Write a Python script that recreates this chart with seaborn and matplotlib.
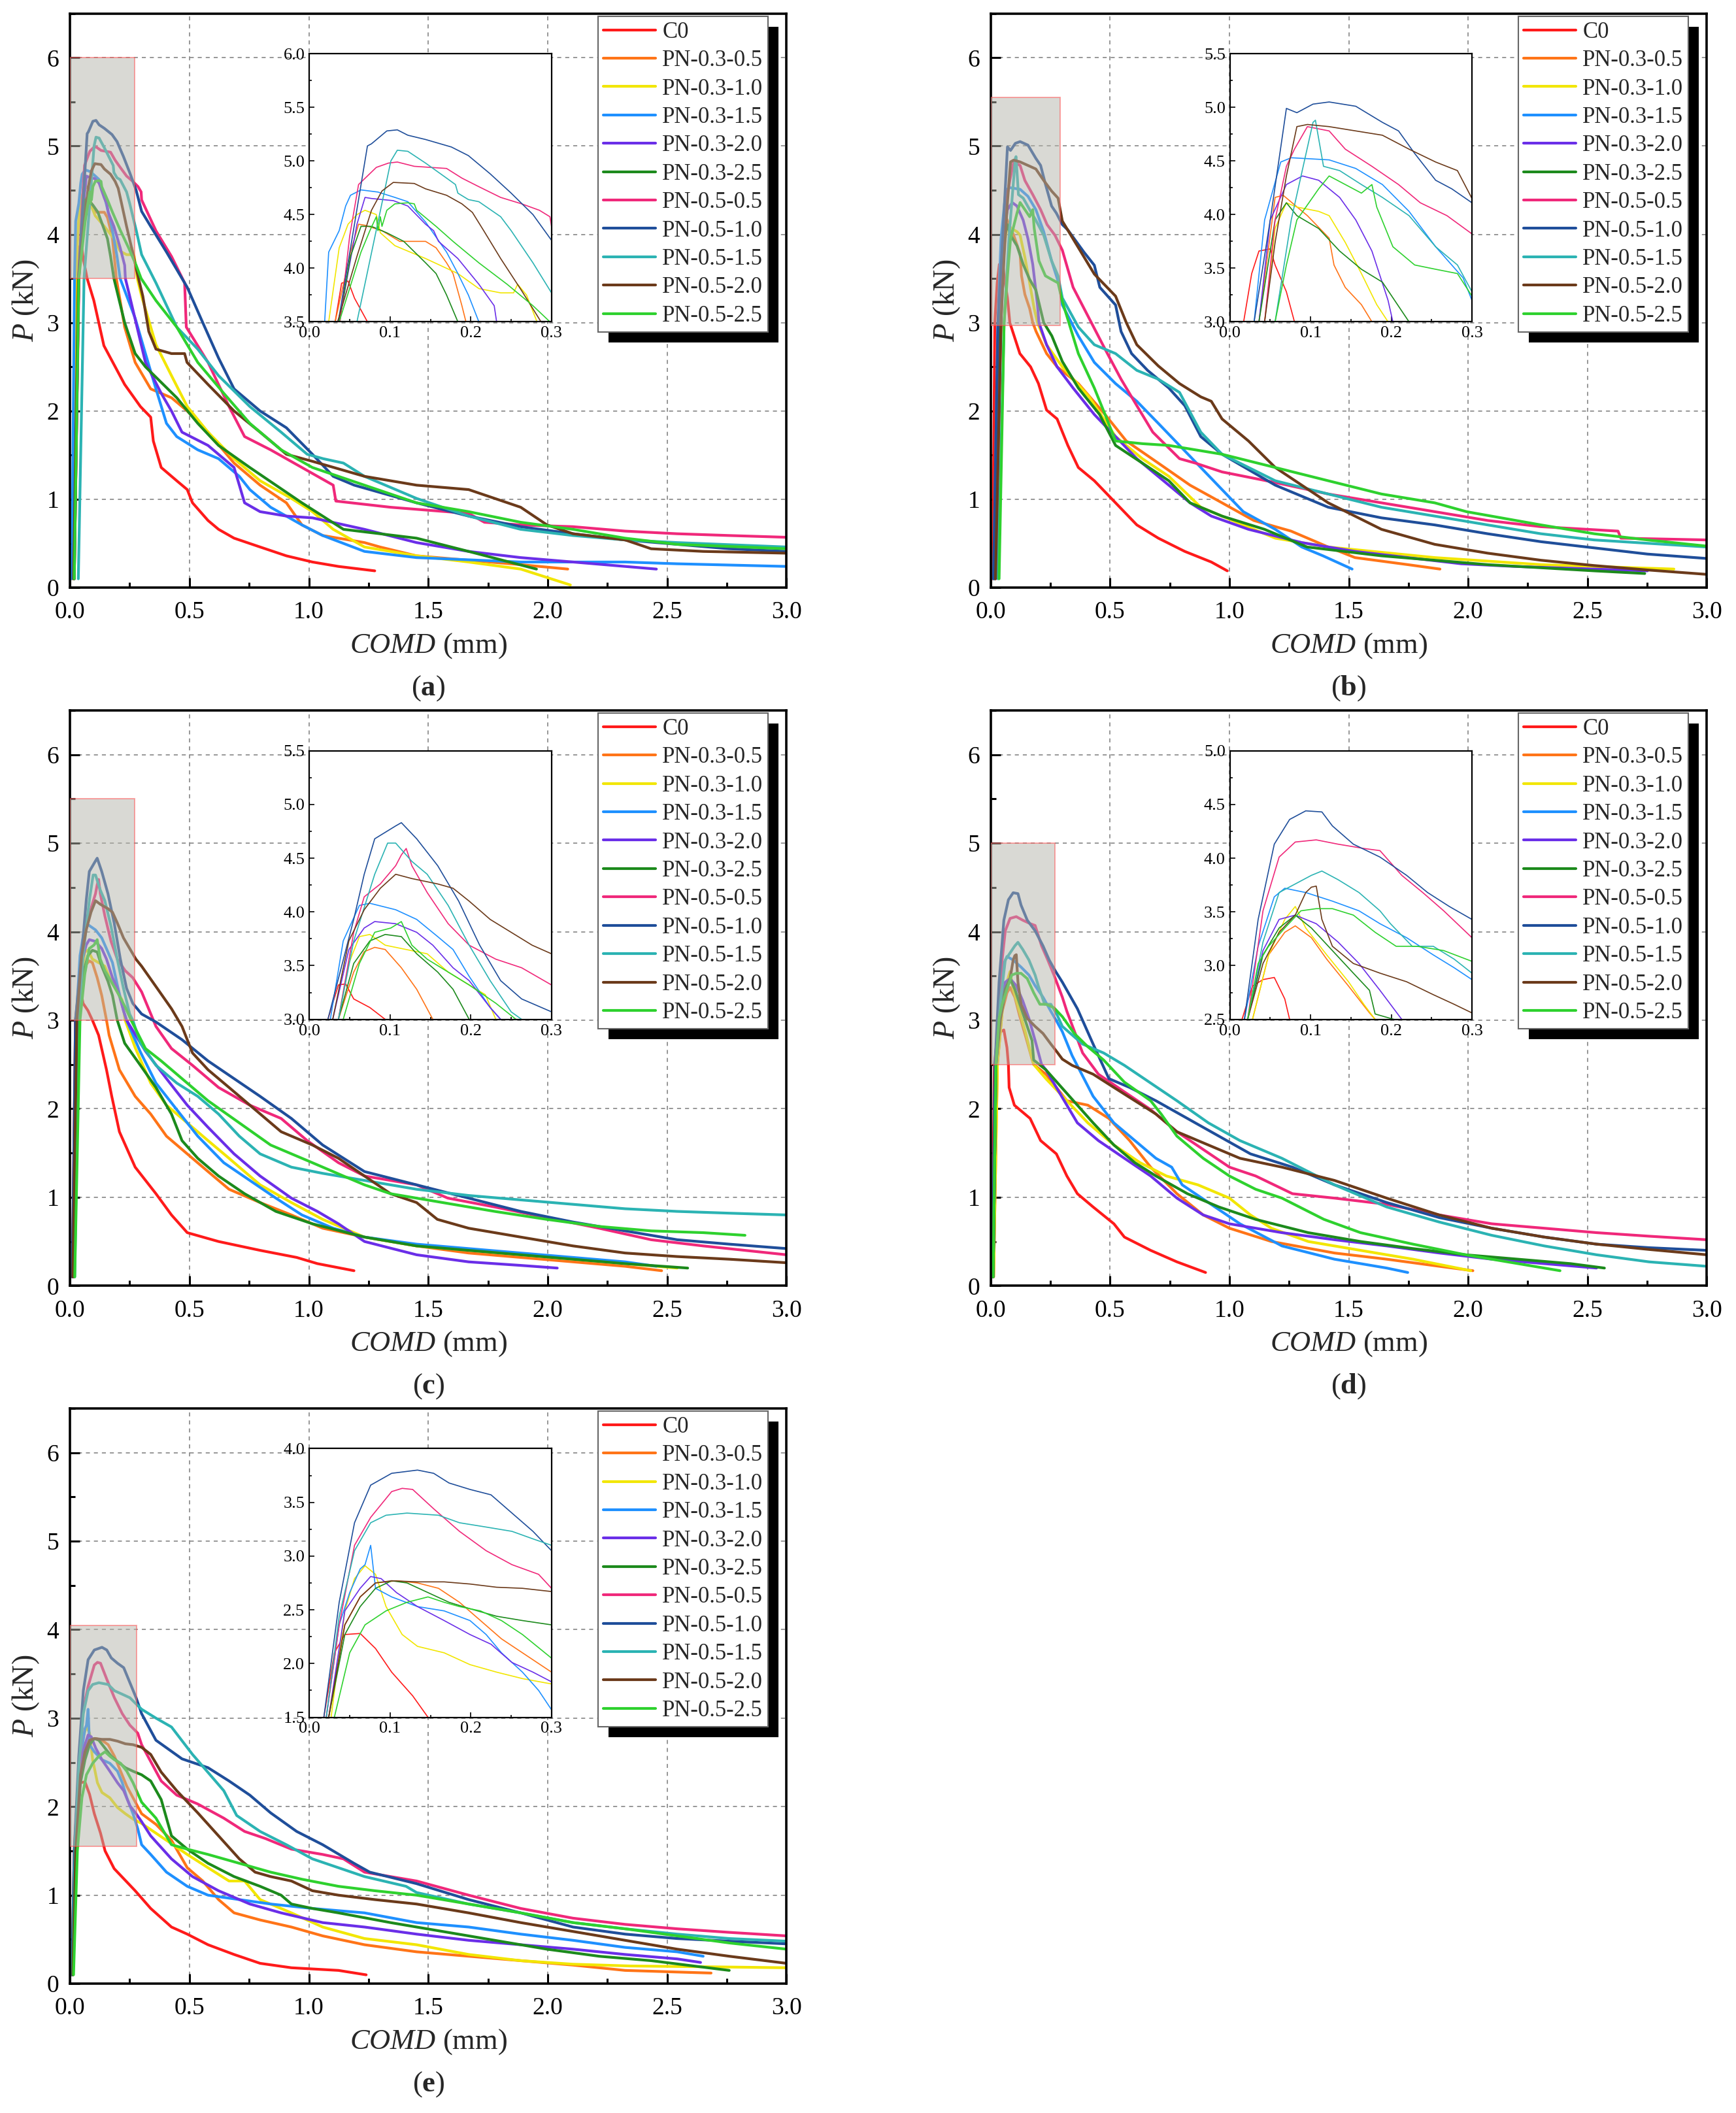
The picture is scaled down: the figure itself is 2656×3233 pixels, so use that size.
import pandas as pd
import seaborn as sns
import matplotlib
matplotlib.use('Agg')
import matplotlib.pyplot as plt
from matplotlib.patches import Rectangle
from matplotlib.ticker import MultipleLocator

# ---- series and colours ----
series = ['C0', 'PN-0.3-0.5', 'PN-0.3-1.0', 'PN-0.3-1.5', 'PN-0.3-2.0', 'PN-0.3-2.5',
          'PN-0.5-0.5', 'PN-0.5-1.0', 'PN-0.5-1.5', 'PN-0.5-2.0', 'PN-0.5-2.5']
colors = ['#ff1a1a', '#ff7417', '#f2e600', '#1e90ff', '#6a2ee8', '#1c8a1c',
          '#f0287a', '#1f4e9a', '#2bb3b3', '#6b3a1a', '#2ed12e']
palette = dict(zip(series, colors))

# ---- (a) load vs COMD, (COMD mm, P kN) points, one list per series ----
curves_a = [
    [(0.012,0.1),(0.032,3.5),(0.040,3.86),(0.048,3.88),(0.056,3.72),(0.072,3.5),(0.100,3.25),(0.142,2.74),(0.229,2.30),(0.295,2.05),(0.338,1.93),(0.349,1.66),(0.382,1.36),(0.447,1.21),(0.491,1.11),(0.513,0.96),(0.578,0.76),(0.622,0.66),(0.687,0.56),(0.796,0.46),(0.906,0.36),(1.015,0.29),(1.124,0.24),(1.276,0.19)],
    [(0.015,0.1),(0.032,3.5),(0.051,4.15),(0.061,4.41),(0.069,4.40),(0.090,4.35),(0.112,4.25),(0.144,4.25),(0.157,4.19),(0.170,4.05),(0.178,3.95),(0.189,3.65),(0.194,3.5),(0.229,2.95),(0.273,2.55),(0.338,2.25),(0.425,2.15),(0.491,2.0),(0.578,1.76),(0.687,1.41),(0.796,1.16),(0.906,0.96),(0.971,0.71),(1.058,0.59),(1.233,0.51),(1.298,0.46),(1.451,0.36),(1.669,0.31),(1.887,0.26),(2.084,0.21)],
    [(0.010,0.1),(0.024,3.5),(0.037,4.19),(0.048,4.41),(0.059,4.50),(0.069,4.54),(0.083,4.50),(0.088,4.33),(0.106,4.21),(0.144,4.09),(0.184,3.95),(0.210,3.81),(0.237,3.77),(0.253,3.77),(0.258,3.85),(0.269,3.75),(0.282,3.5),(0.300,3.30),(0.360,2.75),(0.425,2.40),(0.491,2.05),(0.578,1.76),(0.687,1.46),(0.796,1.21),(0.927,1.01),(1.015,0.86),(1.102,0.66),(1.233,0.46),(1.451,0.36),(1.669,0.29),(1.887,0.21),(2.095,0.03)],
    [(0.008,0.1),(0.019,3.5),(0.024,4.15),(0.037,4.35),(0.045,4.58),(0.051,4.68),(0.064,4.73),(0.085,4.71),(0.106,4.66),(0.122,4.62),(0.144,4.43),(0.170,4.15),(0.184,3.95),(0.197,3.75),(0.210,3.5),(0.273,3.05),(0.316,2.65),(0.360,2.25),(0.404,1.86),(0.447,1.71),(0.535,1.56),(0.622,1.46),(0.709,1.26),(0.753,1.11),(0.840,0.91),(0.971,0.71),(1.058,0.59),(1.233,0.41),(1.451,0.34),(1.887,0.29),(2.324,0.29),(2.542,0.27),(3.0,0.24)],
    [(0.018,0.1),(0.037,3.5),(0.059,4.41),(0.069,4.66),(0.077,4.65),(0.104,4.63),(0.122,4.58),(0.144,4.41),(0.154,4.35),(0.160,4.25),(0.184,4.09),(0.210,3.85),(0.229,3.65),(0.232,3.5),(0.250,3.30),(0.316,2.55),(0.382,2.20),(0.425,2.0),(0.469,1.76),(0.578,1.61),(0.687,1.36),(0.731,0.96),(0.796,0.86),(0.906,0.81),(1.015,0.79),(1.233,0.66),(1.451,0.51),(1.669,0.41),(1.887,0.34),(2.106,0.29),(2.455,0.21)],
    [(0.018,0.1),(0.037,3.5),(0.051,4.11),(0.064,4.39),(0.077,4.39),(0.096,4.33),(0.117,4.25),(0.144,4.05),(0.157,3.95),(0.170,3.75),(0.184,3.5),(0.229,3.0),(0.273,2.65),(0.316,2.50),(0.447,2.15),(0.535,1.86),(0.622,1.61),(0.753,1.36),(0.862,1.16),(0.971,0.96),(1.058,0.81),(1.145,0.66),(1.451,0.56),(1.669,0.41),(1.953,0.21)],
    [(0.018,0.1),(0.038,3.5),(0.050,4.30),(0.061,4.78),(0.083,4.94),(0.098,4.98),(0.109,4.99),(0.130,4.95),(0.170,4.93),(0.189,4.84),(0.210,4.76),(0.237,4.66),(0.263,4.60),(0.285,4.54),(0.298,4.48),(0.300,4.39),(0.360,4.04),(0.425,3.75),(0.480,3.45),(0.487,2.95),(0.578,2.55),(0.666,2.05),(0.731,1.71),(0.840,1.56),(0.971,1.36),(1.102,1.16),(1.113,0.98),(1.342,0.91),(1.669,0.84),(1.735,0.74),(1.887,0.71),(2.106,0.69),(2.324,0.64),(2.542,0.61),(2.760,0.59),(3.0,0.57)],
    [(0.017,0.1),(0.037,3.55),(0.072,5.14),(0.077,5.16),(0.096,5.28),(0.109,5.29),(0.122,5.24),(0.144,5.20),(0.176,5.13),(0.197,5.05),(0.224,4.88),(0.250,4.70),(0.277,4.50),(0.300,4.26),(0.338,4.09),(0.404,3.80),(0.491,3.40),(0.556,3.00),(0.622,2.60),(0.687,2.25),(0.796,2.00),(0.906,1.81),(1.015,1.51),(1.102,1.26),(1.190,1.16),(1.451,0.96),(1.669,0.81),(1.887,0.69),(2.106,0.61),(2.324,0.54),(2.542,0.49),(2.760,0.44),(3.0,0.41)],
    [(0.035,0.1),(0.059,3.5),(0.101,5.0),(0.109,5.10),(0.122,5.09),(0.144,4.98),(0.170,4.84),(0.181,4.78),(0.184,4.70),(0.197,4.64),(0.210,4.62),(0.237,4.48),(0.250,4.35),(0.277,4.05),(0.300,3.77),(0.360,3.45),(0.447,2.95),(0.535,2.70),(0.622,2.40),(0.753,2.05),(0.884,1.76),(0.993,1.51),(1.060,1.46),(1.145,1.41),(1.233,1.26),(1.451,1.01),(1.669,0.81),(1.887,0.66),(2.106,0.59),(2.324,0.54),(2.542,0.51),(3.0,0.46)],
    [(0.015,0.1),(0.035,3.5),(0.059,4.11),(0.077,4.54),(0.090,4.72),(0.104,4.80),(0.130,4.79),(0.144,4.74),(0.170,4.68),(0.189,4.60),(0.202,4.52),(0.216,4.35),(0.237,4.09),(0.263,3.79),(0.287,3.5),(0.305,3.30),(0.330,2.90),(0.360,2.70),(0.425,2.65),(0.480,2.65),(0.490,2.55),(0.578,2.30),(0.687,2.0),(0.796,1.76),(0.906,1.51),(1.015,1.43),(1.233,1.26),(1.451,1.16),(1.669,1.11),(1.778,1.01),(1.887,0.91),(1.997,0.71),(2.106,0.61),(2.324,0.54),(2.433,0.44),(2.651,0.41),(3.0,0.39)],
    [(0.018,0.1),(0.037,3.5),(0.064,4.15),(0.075,4.35),(0.083,4.48),(0.085,4.35),(0.088,4.48),(0.090,4.39),(0.096,4.54),(0.106,4.60),(0.122,4.61),(0.130,4.60),(0.133,4.54),(0.157,4.39),(0.178,4.25),(0.210,4.05),(0.245,3.85),(0.277,3.65),(0.298,3.5),(0.360,3.25),(0.447,2.95),(0.535,2.55),(0.644,2.20),(0.753,1.86),(0.884,1.56),(1.015,1.36),(1.233,1.16),(1.451,0.96),(1.669,0.86),(1.887,0.74),(2.106,0.66),(2.324,0.56),(2.542,0.49),(3.0,0.44)],
]

# ---- (b) ----
curves_b = [
    [(0.008,0.1),(0.017,3.0),(0.027,3.45),(0.036,3.66),(0.050,3.68),(0.056,3.53),(0.070,3.28),(0.080,3.0),(0.122,2.65),(0.167,2.50),(0.200,2.31),(0.234,2.01),(0.278,1.91),(0.323,1.61),(0.367,1.36),(0.434,1.21),(0.523,0.96),(0.612,0.71),(0.702,0.56),(0.813,0.41),(0.924,0.29),(0.991,0.19)],
    [(0.018,0.1),(0.036,3.0),(0.056,4.16),(0.066,4.18),(0.096,3.99),(0.123,3.78),(0.129,3.53),(0.143,3.32),(0.163,3.16),(0.176,3.0),(0.190,2.90),(0.234,2.65),(0.278,2.50),(0.367,2.31),(0.479,1.96),(0.568,1.66),(0.702,1.41),(0.835,1.16),(0.969,0.96),(1.102,0.76),(1.258,0.64),(1.414,0.46),(1.526,0.34),(1.748,0.26),(1.882,0.21)],
    [(0.020,0.1),(0.043,3.0),(0.056,3.87),(0.070,4.11),(0.083,4.07),(0.110,4.03),(0.123,3.99),(0.143,3.74),(0.163,3.45),(0.182,3.16),(0.196,3.0),(0.234,2.75),(0.300,2.50),(0.412,2.16),(0.523,1.71),(0.635,1.46),(0.746,1.26),(0.880,0.91),(1.013,0.76),(1.192,0.56),(1.414,0.46),(1.860,0.34),(2.305,0.26),(2.862,0.21)],
    [(0.012,0.1),(0.030,3.0),(0.043,3.95),(0.063,4.49),(0.076,4.53),(0.123,4.51),(0.156,4.43),(0.189,4.28),(0.222,4.03),(0.255,3.70),(0.289,3.41),(0.300,3.20),(0.367,2.85),(0.434,2.55),(0.523,2.31),(0.612,2.11),(0.702,1.86),(0.791,1.61),(0.880,1.36),(0.969,1.11),(1.058,0.86),(1.192,0.66),(1.303,0.46),(1.392,0.36),(1.514,0.21)],
    [(0.015,0.1),(0.036,3.0),(0.050,3.95),(0.070,4.28),(0.090,4.36),(0.110,4.32),(0.136,4.16),(0.156,3.95),(0.176,3.66),(0.196,3.20),(0.202,3.0),(0.234,2.75),(0.278,2.50),(0.345,2.26),(0.434,1.96),(0.523,1.71),(0.612,1.46),(0.746,1.16),(0.835,0.96),(0.924,0.81),(1.080,0.66),(1.303,0.51),(1.526,0.41),(1.748,0.34),(1.971,0.27),(2.194,0.24),(2.528,0.21),(2.751,0.19)],
    [(0.015,0.1),(0.036,3.0),(0.056,3.95),(0.070,4.11),(0.083,3.99),(0.110,3.87),(0.136,3.66),(0.163,3.49),(0.189,3.37),(0.222,3.0),(0.256,2.85),(0.300,2.56),(0.367,2.26),(0.456,1.96),(0.523,1.61),(0.635,1.41),(0.746,1.21),(0.835,0.96),(0.969,0.81),(1.147,0.66),(1.325,0.46),(1.637,0.36),(2.082,0.26),(2.528,0.19),(2.740,0.16)],
    [(0.020,0.1),(0.043,3.0),(0.056,3.95),(0.070,4.45),(0.080,4.61),(0.096,4.82),(0.123,4.78),(0.143,4.61),(0.176,4.45),(0.209,4.28),(0.236,4.11),(0.269,3.99),(0.300,3.82),(0.345,3.40),(0.412,3.05),(0.479,2.70),(0.546,2.36),(0.612,2.06),(0.679,1.76),(0.791,1.46),(0.857,1.41),(0.969,1.31),(1.192,1.19),(1.414,1.06),(1.637,0.96),(1.860,0.86),(2.082,0.76),(2.305,0.69),(2.628,0.64),(2.640,0.56),(3.0,0.54)],
    [(0.012,0.1),(0.030,3.0),(0.050,3.95),(0.070,4.99),(0.083,4.95),(0.103,5.03),(0.123,5.05),(0.156,5.01),(0.189,4.86),(0.209,4.78),(0.229,4.57),(0.255,4.32),(0.275,4.24),(0.300,4.11),(0.323,4.05),(0.390,3.80),(0.434,3.65),(0.457,3.40),(0.523,3.20),(0.546,2.90),(0.590,2.65),(0.657,2.46),(0.746,2.26),(0.813,2.06),(0.880,1.71),(0.969,1.51),(1.192,1.16),(1.414,0.91),(1.637,0.79),(1.860,0.71),(2.082,0.61),(2.305,0.52),(2.528,0.45),(2.751,0.38),(3.0,0.33)],
    [(0.030,0.1),(0.056,3.0),(0.076,3.95),(0.103,4.86),(0.106,4.88),(0.116,4.45),(0.136,4.41),(0.163,4.28),(0.189,4.16),(0.222,3.99),(0.255,3.70),(0.282,3.53),(0.300,3.28),(0.367,2.95),(0.434,2.75),(0.523,2.65),(0.612,2.46),(0.702,2.36),(0.791,2.21),(0.880,1.76),(0.969,1.51),(1.192,1.21),(1.414,1.06),(1.637,0.91),(1.860,0.81),(2.082,0.71),(2.305,0.61),(2.528,0.54),(3.0,0.46)],
    [(0.020,0.1),(0.043,3.0),(0.056,3.74),(0.070,4.36),(0.083,4.82),(0.096,4.84),(0.123,4.82),(0.156,4.78),(0.189,4.74),(0.222,4.61),(0.255,4.49),(0.282,4.41),(0.300,4.15),(0.367,3.85),(0.434,3.55),(0.523,3.30),(0.568,3.0),(0.612,2.75),(0.702,2.51),(0.791,2.31),(0.880,2.16),(0.924,2.11),(0.969,1.91),(1.080,1.66),(1.192,1.36),(1.303,1.16),(1.414,0.96),(1.637,0.66),(1.860,0.49),(2.082,0.39),(2.305,0.31),(2.528,0.25),(2.751,0.20),(3.0,0.15)],
    [(0.035,0.1),(0.056,3.0),(0.070,3.53),(0.083,3.95),(0.110,4.24),(0.123,4.36),(0.143,4.28),(0.163,4.20),(0.176,4.28),(0.182,4.07),(0.202,3.70),(0.229,3.53),(0.255,3.49),(0.282,3.45),(0.300,3.24),(0.367,2.65),(0.434,2.26),(0.479,1.96),(0.523,1.66),(0.635,1.63),(0.746,1.61),(0.969,1.51),(1.192,1.36),(1.414,1.21),(1.637,1.06),(1.860,0.96),(1.993,0.86),(2.305,0.71),(2.528,0.61),(2.751,0.54),(3.0,0.47)],
]

# ---- (c) ----
curves_c = [
    [(0.010,0.1),(0.023,3.0),(0.036,3.32),(0.045,3.33),(0.055,3.19),(0.075,3.11),(0.094,3.0),(0.120,2.83),(0.153,2.44),(0.175,2.14),(0.207,1.74),(0.273,1.34),(0.360,1.04),(0.425,0.80),(0.491,0.60),(0.622,0.50),(0.796,0.40),(0.949,0.32),(1.036,0.25),(1.189,0.17)],
    [(0.015,0.1),(0.036,3.0),(0.055,3.44),(0.068,3.63),(0.081,3.67),(0.094,3.65),(0.114,3.48),(0.133,3.28),(0.153,3.0),(0.164,2.83),(0.207,2.44),(0.273,2.14),(0.338,1.94),(0.404,1.69),(0.491,1.49),(0.578,1.29),(0.666,1.09),(0.796,0.94),(0.927,0.80),(1.058,0.65),(1.233,0.55),(1.451,0.45),(1.669,0.37),(1.887,0.32),(2.106,0.27),(2.324,0.22),(2.477,0.17)],
    [(0.015,0.1),(0.036,3.0),(0.049,3.52),(0.062,3.77),(0.075,3.79),(0.094,3.69),(0.120,3.65),(0.146,3.61),(0.172,3.44),(0.198,3.32),(0.218,3.23),(0.231,3.0),(0.273,2.69),(0.338,2.29),(0.404,2.04),(0.491,1.84),(0.578,1.64),(0.666,1.44),(0.709,1.34),(0.796,1.14),(0.927,0.94),(1.058,0.75),(1.233,0.55),(1.451,0.45),(1.887,0.35),(2.106,0.30),(2.324,0.25),(2.542,0.20)],
    [(0.010,0.1),(0.026,3.0),(0.042,3.73),(0.062,4.06),(0.075,4.08),(0.107,4.02),(0.133,3.93),(0.159,3.77),(0.178,3.65),(0.198,3.40),(0.224,3.11),(0.237,3.0),(0.295,2.64),(0.360,2.29),(0.447,1.99),(0.535,1.69),(0.644,1.39),(0.753,1.19),(0.862,0.99),(0.971,0.80),(1.102,0.65),(1.233,0.55),(1.451,0.47),(1.669,0.42),(1.887,0.37),(2.106,0.32),(2.324,0.27),(2.455,0.22)],
    [(0.012,0.1),(0.029,3.0),(0.049,3.65),(0.068,3.85),(0.081,3.91),(0.107,3.89),(0.133,3.81),(0.153,3.69),(0.178,3.48),(0.198,3.36),(0.224,3.11),(0.237,3.0),(0.316,2.65),(0.404,2.34),(0.491,2.04),(0.578,1.79),(0.687,1.49),(0.796,1.24),(0.927,0.99),(1.036,0.84),(1.124,0.70),(1.233,0.50),(1.451,0.35),(1.669,0.27),(1.887,0.23),(2.040,0.20)],
    [(0.015,0.1),(0.036,3.0),(0.055,3.52),(0.075,3.73),(0.094,3.79),(0.114,3.77),(0.133,3.61),(0.159,3.44),(0.178,3.28),(0.198,3.0),(0.229,2.74),(0.295,2.49),(0.360,2.24),(0.425,1.94),(0.469,1.64),(0.535,1.44),(0.622,1.24),(0.731,1.04),(0.862,0.84),(1.015,0.70),(1.233,0.55),(1.451,0.45),(1.669,0.40),(1.887,0.35),(2.106,0.30),(2.324,0.25),(2.586,0.20)],
    [(0.015,0.1),(0.036,3.0),(0.055,3.81),(0.068,4.14),(0.088,4.26),(0.107,4.43),(0.114,4.53),(0.120,4.59),(0.127,4.43),(0.146,4.18),(0.172,3.89),(0.198,3.69),(0.231,3.56),(0.263,3.48),(0.300,3.32),(0.360,2.93),(0.425,2.68),(0.513,2.49),(0.622,2.24),(0.753,2.04),(0.884,1.89),(0.993,1.64),(1.124,1.39),(1.233,1.24),(1.451,1.14),(1.582,0.99),(1.778,0.89),(1.996,0.77),(2.215,0.65),(2.433,0.52),(2.651,0.45),(3.0,0.35)],
    [(0.010,0.1),(0.023,3.0),(0.055,3.93),(0.068,4.35),(0.081,4.68),(0.107,4.80),(0.114,4.83),(0.133,4.68),(0.159,4.43),(0.185,4.10),(0.211,3.69),(0.237,3.36),(0.263,3.19),(0.300,3.07),(0.360,2.98),(0.469,2.78),(0.578,2.54),(0.687,2.34),(0.796,2.14),(0.927,1.89),(1.058,1.59),(1.233,1.29),(1.451,1.14),(1.669,0.99),(1.887,0.84),(2.106,0.72),(2.324,0.62),(2.542,0.52),(2.760,0.47),(3.0,0.42)],
    [(0.020,0.1),(0.036,3.0),(0.055,3.73),(0.081,4.35),(0.097,4.64),(0.107,4.64),(0.127,4.47),(0.146,4.35),(0.172,4.06),(0.198,3.69),(0.224,3.36),(0.250,3.07),(0.263,3.0),(0.295,2.74),(0.360,2.49),(0.447,2.29),(0.535,2.14),(0.622,1.94),(0.709,1.69),(0.796,1.49),(0.927,1.34),(1.058,1.27),(1.233,1.19),(1.451,1.09),(1.669,1.02),(1.887,0.97),(2.106,0.92),(2.324,0.87),(2.542,0.84),(2.760,0.82),(3.0,0.80)],
    [(0.012,0.1),(0.029,3.0),(0.049,3.73),(0.068,4.02),(0.088,4.22),(0.107,4.35),(0.127,4.31),(0.159,4.26),(0.178,4.22),(0.198,4.10),(0.224,3.93),(0.250,3.81),(0.276,3.69),(0.300,3.61),(0.360,3.38),(0.425,3.13),(0.469,2.93),(0.513,2.63),(0.578,2.44),(0.666,2.24),(0.775,1.99),(0.884,1.74),(1.015,1.59),(1.124,1.44),(1.233,1.24),(1.342,1.04),(1.451,0.94),(1.538,0.75),(1.669,0.65),(1.887,0.55),(2.106,0.45),(2.324,0.37),(2.542,0.33),(2.760,0.30),(3.0,0.26)],
    [(0.020,0.1),(0.042,3.0),(0.062,3.52),(0.081,3.81),(0.101,3.85),(0.114,3.91),(0.127,3.69),(0.146,3.56),(0.172,3.44),(0.198,3.32),(0.231,3.15),(0.256,3.0),(0.316,2.68),(0.382,2.54),(0.469,2.34),(0.578,2.09),(0.709,1.84),(0.840,1.59),(1.015,1.39),(1.145,1.24),(1.233,1.14),(1.342,1.04),(1.560,0.94),(1.778,0.84),(1.996,0.75),(2.215,0.67),(2.433,0.62),(2.651,0.60),(2.826,0.57)],
]

# ---- (d) ----
curves_d = [
    [(0.005,0.1),(0.015,2.5),(0.028,2.81),(0.041,2.87),(0.055,2.89),(0.068,2.69),(0.074,2.5),(0.077,2.24),(0.099,2.04),(0.165,1.89),(0.209,1.64),(0.275,1.49),(0.319,1.24),(0.363,1.04),(0.429,0.89),(0.516,0.70),(0.560,0.55),(0.670,0.40),(0.780,0.27),(0.900,0.15)],
    [(0.012,0.1),(0.028,2.5),(0.048,3.10),(0.068,3.31),(0.081,3.37),(0.101,3.26),(0.120,3.06),(0.147,2.81),(0.173,2.56),(0.180,2.5),(0.231,2.39),(0.319,2.09),(0.407,2.04),(0.495,1.89),(0.582,1.64),(0.670,1.34),(0.780,1.04),(0.890,0.80),(1.0,0.65),(1.176,0.50),(1.440,0.37),(1.659,0.30),(1.879,0.22),(2.020,0.17)],
    [(0.012,0.1),(0.028,2.5),(0.048,3.10),(0.068,3.43),(0.081,3.55),(0.094,3.35),(0.120,3.10),(0.147,2.85),(0.166,2.64),(0.180,2.5),(0.231,2.34),(0.319,2.09),(0.407,1.84),(0.516,1.59),(0.626,1.39),(0.736,1.24),(0.868,1.14),(1.0,0.99),(1.088,0.80),(1.176,0.65),(1.330,0.50),(1.549,0.40),(1.769,0.30),(2.011,0.17)],
    [(0.008,0.1),(0.018,2.5),(0.035,3.18),(0.055,3.64),(0.068,3.72),(0.094,3.68),(0.127,3.60),(0.160,3.51),(0.186,3.39),(0.219,3.26),(0.252,3.10),(0.278,2.98),(0.300,2.87),(0.341,2.60),(0.429,2.14),(0.516,1.84),(0.604,1.64),(0.692,1.44),(0.758,1.34),(0.802,1.14),(0.912,0.94),(1.044,0.70),(1.220,0.45),(1.440,0.30),(1.659,0.20),(1.747,0.15)],
    [(0.010,0.1),(0.022,2.5),(0.041,3.14),(0.061,3.43),(0.081,3.47),(0.107,3.39),(0.134,3.22),(0.160,3.02),(0.186,2.77),(0.213,2.5),(0.231,2.44),(0.297,2.14),(0.363,1.84),(0.451,1.64),(0.560,1.44),(0.670,1.24),(0.780,0.99),(0.890,0.80),(1.0,0.70),(1.220,0.60),(1.440,0.52),(1.659,0.45),(1.879,0.37),(2.099,0.30),(2.319,0.25),(2.538,0.20)],
    [(0.010,0.1),(0.022,2.5),(0.041,3.10),(0.061,3.35),(0.081,3.47),(0.101,3.35),(0.127,3.14),(0.153,2.93),(0.173,2.77),(0.180,2.55),(0.231,2.44),(0.297,2.24),(0.363,2.04),(0.429,1.84),(0.516,1.59),(0.604,1.39),(0.692,1.24),(0.824,1.04),(0.956,0.89),(1.110,0.75),(1.330,0.60),(1.549,0.50),(1.769,0.42),(1.989,0.35),(2.209,0.30),(2.429,0.25),(2.571,0.20)],
    [(0.010,0.1),(0.022,2.5),(0.041,3.51),(0.061,4.01),(0.081,4.15),(0.107,4.17),(0.134,4.13),(0.166,4.09),(0.186,4.07),(0.213,3.84),(0.239,3.68),(0.265,3.51),(0.300,3.26),(0.319,3.10),(0.385,2.63),(0.451,2.39),(0.560,2.19),(0.670,1.99),(0.780,1.74),(0.890,1.54),(1.0,1.34),(1.110,1.24),(1.264,1.04),(1.440,0.99),(1.659,0.92),(1.879,0.80),(2.099,0.70),(2.319,0.65),(2.538,0.60),(2.758,0.56),(3.0,0.52)],
    [(0.008,0.1),(0.018,2.5),(0.035,3.43),(0.055,4.13),(0.074,4.36),(0.094,4.44),(0.114,4.43),(0.127,4.30),(0.153,4.13),(0.186,4.01),(0.219,3.84),(0.245,3.68),(0.272,3.55),(0.300,3.43),(0.363,3.13),(0.429,2.73),(0.495,2.34),(0.582,2.24),(0.692,2.09),(0.824,1.89),(0.956,1.69),(1.088,1.49),(1.264,1.34),(1.440,1.14),(1.659,0.94),(1.879,0.77),(2.099,0.65),(2.319,0.55),(2.538,0.47),(2.758,0.43),(3.0,0.40)],
    [(0.010,0.1),(0.022,2.5),(0.041,3.22),(0.061,3.68),(0.081,3.76),(0.101,3.84),(0.114,3.88),(0.134,3.80),(0.160,3.68),(0.186,3.51),(0.199,3.39),(0.226,3.18),(0.252,3.18),(0.278,3.06),(0.300,2.93),(0.385,2.73),(0.473,2.63),(0.560,2.49),(0.670,2.29),(0.780,2.09),(0.912,1.84),(1.044,1.64),(1.220,1.44),(1.440,1.14),(1.659,0.89),(1.879,0.72),(2.099,0.57),(2.319,0.45),(2.538,0.35),(2.758,0.27),(3.0,0.22)],
    [(0.010,0.1),(0.022,2.5),(0.041,3.02),(0.061,3.31),(0.081,3.47),(0.094,3.68),(0.101,3.73),(0.107,3.74),(0.114,3.43),(0.127,3.18),(0.153,3.02),(0.186,2.93),(0.219,2.85),(0.252,2.73),(0.278,2.64),(0.300,2.56),(0.341,2.49),(0.429,2.39),(0.516,2.24),(0.604,2.09),(0.692,1.94),(0.780,1.74),(0.912,1.59),(1.044,1.44),(1.220,1.34),(1.440,1.19),(1.659,0.99),(1.879,0.80),(2.099,0.65),(2.319,0.55),(2.538,0.47),(2.758,0.41),(3.0,0.35)],
    [(0.010,0.1),(0.022,2.5),(0.035,3.02),(0.048,3.18),(0.068,3.35),(0.088,3.51),(0.107,3.53),(0.127,3.53),(0.153,3.47),(0.180,3.31),(0.206,3.18),(0.232,3.18),(0.265,3.14),(0.300,3.04),(0.350,2.85),(0.407,2.70),(0.473,2.55),(0.560,2.30),(0.670,2.09),(0.714,1.94),(0.780,1.69),(0.890,1.44),(1.0,1.24),(1.110,1.09),(1.220,0.99),(1.396,0.75),(1.549,0.60),(1.769,0.47),(1.989,0.35),(2.209,0.25),(2.385,0.17)],
]

# ---- (e) ----
curves_e = [
    [(0.008,0.1),(0.018,1.5),(0.031,2.10),(0.044,2.27),(0.063,2.28),(0.082,2.14),(0.102,1.92),(0.128,1.70),(0.147,1.5),(0.185,1.30),(0.273,1.05),(0.338,0.85),(0.425,0.64),(0.491,0.56),(0.578,0.44),(0.687,0.33),(0.796,0.23),(0.927,0.18),(1.124,0.15),(1.240,0.10)],
    [(0.012,0.1),(0.024,1.5),(0.044,2.36),(0.063,2.62),(0.082,2.75),(0.108,2.77),(0.134,2.75),(0.160,2.70),(0.186,2.57),(0.212,2.40),(0.238,2.23),(0.264,2.10),(0.300,1.92),(0.360,1.80),(0.425,1.62),(0.491,1.31),(0.556,1.16),(0.622,0.95),(0.687,0.80),(0.796,0.72),(0.927,0.64),(1.058,0.54),(1.233,0.44),(1.451,0.36),(1.669,0.31),(1.887,0.26),(2.106,0.21),(2.324,0.15),(2.684,0.12)],
    [(0.012,0.1),(0.027,1.5),(0.044,2.49),(0.056,2.79),(0.069,2.91),(0.082,2.83),(0.095,2.53),(0.115,2.27),(0.134,2.16),(0.167,2.10),(0.199,1.99),(0.232,1.92),(0.264,1.86),(0.300,1.81),(0.404,1.62),(0.491,1.46),(0.578,1.31),(0.666,1.16),(0.731,1.16),(0.796,0.95),(0.927,0.80),(1.058,0.64),(1.233,0.51),(1.451,0.44),(1.669,0.33),(1.887,0.26),(2.106,0.22),(2.346,0.20),(2.700,0.19),(3.0,0.18)],
    [(0.010,0.1),(0.021,1.5),(0.037,2.36),(0.050,2.66),(0.063,2.88),(0.069,2.92),(0.076,3.10),(0.082,2.70),(0.102,2.62),(0.134,2.53),(0.167,2.49),(0.199,2.40),(0.219,2.27),(0.238,2.10),(0.264,1.92),(0.284,1.75),(0.300,1.57),(0.338,1.46),(0.404,1.26),(0.491,1.10),(0.578,1.00),(0.709,0.95),(0.840,0.90),(1.015,0.85),(1.233,0.80),(1.451,0.69),(1.669,0.64),(1.887,0.56),(2.106,0.49),(2.324,0.41),(2.542,0.36),(2.651,0.31)],
    [(0.012,0.1),(0.024,1.5),(0.044,2.49),(0.063,2.70),(0.076,2.81),(0.089,2.79),(0.108,2.66),(0.134,2.53),(0.167,2.40),(0.199,2.27),(0.225,2.18),(0.251,2.01),(0.277,1.92),(0.300,1.83),(0.338,1.67),(0.425,1.41),(0.513,1.21),(0.622,1.05),(0.753,0.90),(0.884,0.80),(1.058,0.69),(1.233,0.64),(1.451,0.56),(1.669,0.49),(1.887,0.44),(2.106,0.39),(2.324,0.33),(2.542,0.28),(2.640,0.24)],
    [(0.012,0.1),(0.024,1.5),(0.044,2.27),(0.063,2.53),(0.082,2.70),(0.102,2.77),(0.121,2.75),(0.147,2.66),(0.173,2.57),(0.199,2.51),(0.232,2.44),(0.264,2.40),(0.300,2.36),(0.338,2.29),(0.382,2.08),(0.425,1.67),(0.491,1.52),(0.578,1.36),(0.687,1.21),(0.796,1.10),(0.884,1.00),(0.927,0.90),(1.015,0.85),(1.124,0.80),(1.342,0.69),(1.560,0.59),(1.778,0.49),(1.996,0.39),(2.215,0.31),(2.433,0.26),(2.760,0.15)],
    [(0.010,0.1),(0.021,1.5),(0.037,2.36),(0.056,3.10),(0.076,3.36),(0.102,3.60),(0.115,3.63),(0.128,3.62),(0.154,3.44),(0.186,3.23),(0.219,3.05),(0.251,2.92),(0.284,2.83),(0.300,2.70),(0.382,2.29),(0.447,2.13),(0.535,2.03),(0.644,1.87),(0.731,1.72),(0.818,1.64),(0.927,1.52),(1.058,1.46),(1.145,1.41),(1.233,1.26),(1.451,1.16),(1.669,1.00),(1.887,0.85),(2.106,0.74),(2.324,0.67),(2.542,0.62),(2.760,0.58),(3.0,0.54)],
    [(0.008,0.1),(0.018,1.5),(0.037,2.57),(0.056,3.31),(0.076,3.66),(0.102,3.77),(0.134,3.80),(0.154,3.77),(0.173,3.68),(0.199,3.62),(0.225,3.57),(0.251,3.40),(0.277,3.23),(0.300,3.05),(0.360,2.75),(0.469,2.54),(0.578,2.44),(0.666,2.29),(0.753,2.13),(0.840,1.93),(0.949,1.72),(1.058,1.57),(1.189,1.36),(1.255,1.26),(1.451,1.13),(1.669,0.95),(1.887,0.80),(2.106,0.64),(2.324,0.56),(2.542,0.51),(2.760,0.48),(3.0,0.45)],
    [(0.010,0.1),(0.021,1.5),(0.037,2.44),(0.056,3.05),(0.076,3.31),(0.095,3.38),(0.121,3.40),(0.160,3.38),(0.186,3.31),(0.219,3.27),(0.251,3.23),(0.277,3.16),(0.300,3.10),(0.360,3.0),(0.425,2.90),(0.513,2.59),(0.644,2.18),(0.698,1.90),(0.796,1.72),(0.906,1.57),(1.015,1.41),(1.124,1.31),(1.233,1.21),(1.407,1.10),(1.451,1.03),(1.669,0.90),(1.887,0.80),(2.106,0.69),(2.324,0.62),(2.542,0.56),(2.760,0.51),(3.0,0.48)],
    [(0.012,0.1),(0.024,1.5),(0.044,2.36),(0.063,2.62),(0.082,2.75),(0.102,2.77),(0.134,2.76),(0.167,2.76),(0.199,2.74),(0.232,2.71),(0.264,2.70),(0.300,2.67),(0.338,2.59),(0.382,2.39),(0.447,2.18),(0.535,1.93),(0.622,1.67),(0.709,1.41),(0.775,1.26),(0.840,1.21),(0.927,1.16),(1.015,1.05),(1.124,1.00),(1.276,0.95),(1.451,0.90),(1.669,0.80),(1.887,0.69),(2.106,0.59),(2.324,0.49),(2.542,0.39),(2.760,0.31),(3.0,0.23)],
    [(0.015,0.1),(0.031,1.5),(0.050,2.10),(0.069,2.36),(0.095,2.49),(0.121,2.57),(0.147,2.62),(0.167,2.57),(0.186,2.53),(0.212,2.49),(0.238,2.40),(0.264,2.27),(0.300,2.05),(0.360,1.87),(0.425,1.57),(0.491,1.52),(0.578,1.46),(0.709,1.36),(0.840,1.26),(0.971,1.18),(1.124,1.10),(1.276,1.05),(1.451,1.00),(1.669,0.90),(1.887,0.80),(2.106,0.69),(2.324,0.62),(2.542,0.54),(2.760,0.46),(3.0,0.39)],
]

panel_tags = ['a', 'b', 'c', 'd', 'e']
main_yticks = [0, 1, 2, 3, 4, 5, 6]
main_xticks = [0.0, 0.5, 1.0, 1.5, 2.0, 2.5, 3.0]
inset_xticks = [0.0, 0.1, 0.2, 0.3]
inset_yticks = [[3.5, 4.0, 4.5, 5.0, 5.5, 6.0], [3.0, 3.5, 4.0, 4.5, 5.0, 5.5],
                [3.0, 3.5, 4.0, 4.5, 5.0, 5.5], [2.5, 3.0, 3.5, 4.0, 4.5, 5.0],
                [1.5, 2.0, 2.5, 3.0, 3.5, 4.0]]
# zoom window drawn on the main plot: (x right edge, y bottom, y top)
zoom_boxes = [(0.27, 3.5, 6.0), (0.29, 2.97, 5.55), (0.27, 3.0, 5.5), (0.27, 2.5, 5.0), (0.28, 1.55, 4.05)]
axes_pos = [[0.0403, 0.7219, 0.4128, 0.2717], [0.5707, 0.7219, 0.4125, 0.2717],
            [0.0403, 0.3915, 0.4128, 0.2723], [0.5707, 0.3915, 0.4125, 0.2723],
            [0.0403, 0.0612, 0.4128, 0.2723]]

sns.set_theme(style='white')
plt.rcParams['font.family'] = ['Liberation Serif', 'DejaVu Serif']
plt.rcParams['mathtext.fontset'] = 'custom'
plt.rcParams['mathtext.rm'] = 'Liberation Serif'
plt.rcParams['mathtext.it'] = 'Liberation Serif:italic'
plt.rcParams['mathtext.bf'] = 'Liberation Serif:bold'


def to_frame(curves):
    rows = []
    for name, pts in zip(series, curves):
        for step, (x, y) in enumerate(pts):
            rows.append({'series': name, 'step': step, 'comd': x, 'p': y})
    return pd.DataFrame(rows)


def draw_panel(fig, pos, curves, yticks_in, box, tag):
    df = to_frame(curves)
    ax = fig.add_axes(pos)
    sns.lineplot(data=df, x='comd', y='p', hue='series', hue_order=series, palette=palette,
                 units='series', estimator=None, sort=False, lw=3.0, ax=ax)
    ax.set_xlim(0, 3.0)
    ax.set_ylim(0, 6.5)
    ax.set_xticks(main_xticks)
    ax.set_yticks(main_yticks)
    ax.xaxis.set_minor_locator(MultipleLocator(0.25))
    ax.yaxis.set_minor_locator(MultipleLocator(0.5))
    ax.xaxis.set_major_formatter('{x:.1f}')
    ax.yaxis.set_major_formatter('{x:.0f}')
    ax.grid(True, which='major', ls=(0, (4, 4)), color='#7a7a7a', lw=1.1)
    ax.set_axisbelow(True)
    ax.tick_params(which='both', direction='in', labelsize=27, width=2.2, colors='black',
                   bottom=True, left=True)
    ax.tick_params(which='major', length=11, pad=15)
    ax.tick_params(which='minor', length=6)
    ax.tick_params(axis='y', which='major', pad=12)
    for s in ax.spines.values():
        s.set_linewidth(2.6)
        s.set_color('black')
    ax.set_xlabel(r'$COMD$ (mm)', fontsize=32, labelpad=8)
    ax.set_ylabel(r'$P$ (kN)', fontsize=33, labelpad=6)
    ax.text(0.5, -0.175, r'($\mathbf{' + tag + r'}$)', transform=ax.transAxes,
            ha='center', va='center', fontsize=32)

    # shaded zoom window
    x1, y0, y1 = box
    ax.add_patch(Rectangle((0, y0), x1, y1 - y0, fc='#b5b5aa', ec='#ff5050',
                           alpha=0.5, lw=1.4, zorder=3))

    # inset
    ins = ax.inset_axes([0.334, 0.463, 0.338, 0.467])
    sns.lineplot(data=df, x='comd', y='p', hue='series', hue_order=series, palette=palette,
                 units='series', estimator=None, sort=False, lw=1.2, ax=ins, legend=False)
    ins.set_xlim(0, 0.3)
    ins.set_ylim(yticks_in[0], yticks_in[-1])
    ins.set_facecolor('white')
    ins.set_xticks(inset_xticks)
    ins.set_yticks(yticks_in)
    ins.xaxis.set_minor_locator(MultipleLocator(0.05))
    ins.yaxis.set_minor_locator(MultipleLocator(0.25))
    ins.xaxis.set_major_formatter('{x:.1f}')
    ins.yaxis.set_major_formatter('{x:.1f}')
    ins.tick_params(which='both', direction='in', labelsize=19, width=1.2, colors='black',
                    bottom=True, left=True, pad=5)
    ins.tick_params(which='major', length=6)
    ins.tick_params(which='minor', length=3)
    ins.set_xlabel('')
    ins.set_ylabel('')
    for s in ins.spines.values():
        s.set_linewidth(1.6)
        s.set_color('black')

    # legend
    handles, labels = ax.get_legend_handles_labels()
    leg = ax.legend(handles, labels, loc='upper right', bbox_to_anchor=(0.974, 0.995),
                    borderaxespad=0, fontsize=25, labelspacing=0.3, handlelength=2.3,
                    handletextpad=0.3, borderpad=0.22, frameon=True, fancybox=False,
                    framealpha=1, edgecolor='#666666', facecolor='white')
    leg.get_frame().set_linewidth(1.5)
    for h in leg.get_lines():
        h.set_linewidth(3)
    return ax


fig = plt.figure(figsize=(26.56, 32.33), dpi=100)
fig.patch.set_facecolor('white')
all_curves = [curves_a, curves_b, curves_c, curves_d, curves_e]
axes = []
for pos, curves, yticks_in, box, tag in zip(axes_pos, all_curves, inset_yticks, zoom_boxes, panel_tags):
    axes.append(draw_panel(fig, pos, curves, yticks_in, box, tag))

# black drop shadow behind each legend
fig.canvas.draw()
for ax in axes:
    leg = ax.get_legend()
    bb = leg.get_window_extent().transformed(ax.transAxes.inverted())
    dx = 16 / ax.bbox.width
    dy = 16 / ax.bbox.height
    ax.add_patch(Rectangle((bb.x0 + dx, bb.y0 - dy), bb.width, bb.height, transform=ax.transAxes,
                           fc='black', ec='none', zorder=4.5, clip_on=False))

fig.savefig('out.png', dpi=100)
